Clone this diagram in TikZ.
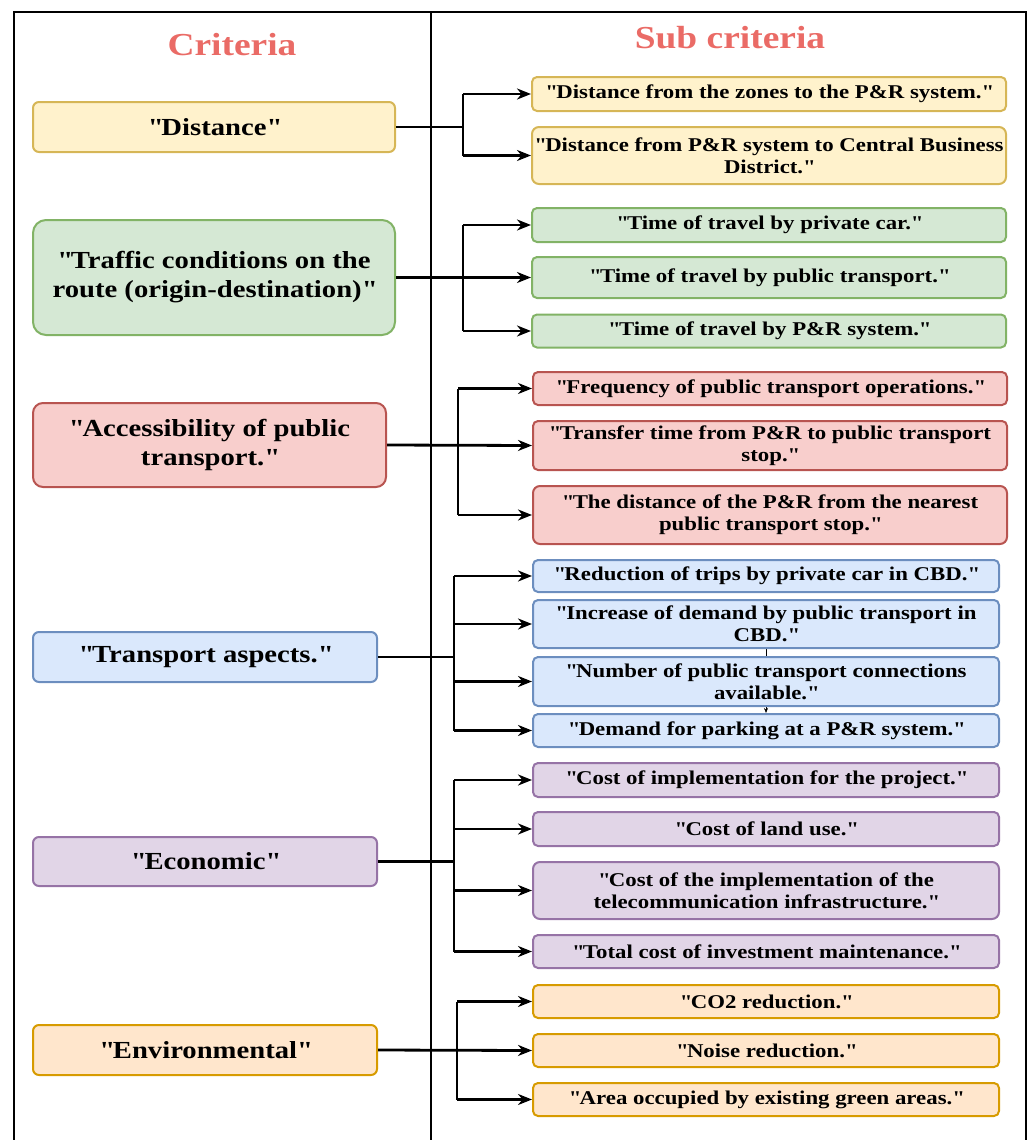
\documentclass[tikz,border=0pt]{standalone}
\usepackage{fontspec}
\setmainfont{Liberation Serif}[FakeStretch=1.17]
\usepackage{xcolor}
\usetikzlibrary{arrows.meta,backgrounds}

\newcommand{\qt}[1]{\textquotedbl#1\textquotedbl}

\definecolor{titleR}{HTML}{EA6B66}
\definecolor{yelF}{HTML}{FFF2CC}\definecolor{yelD}{HTML}{D6B656}
\definecolor{grnF}{HTML}{D5E8D4}\definecolor{grnD}{HTML}{82B366}
\definecolor{redF}{HTML}{F8CECC}\definecolor{redD}{HTML}{B85450}
\definecolor{bluF}{HTML}{DAE8FC}\definecolor{bluD}{HTML}{6C8EBF}
\definecolor{purF}{HTML}{E1D5E7}\definecolor{purD}{HTML}{9673A6}
\definecolor{orgF}{HTML}{FFE6CC}\definecolor{orgD}{HTML}{D79B00}

\tikzset{
  crit/.style={line width=2pt, rounded corners=6pt, align=center, inner sep=2pt,
    font=\fontsize{24.5}{29}\selectfont\bfseries},
  sub/.style={line width=2pt, rounded corners=5pt, align=center, inner sep=2pt,
    font=\fontsize{19.5}{22}\selectfont\bfseries},
  subL/.style={sub, minimum width=474pt},
  subS/.style={sub, minimum width=466pt},
  yel/.style={fill=yelF, draw=yelD},
  grn/.style={fill=grnF, draw=grnD},
  red/.style={fill=redF, draw=redD},
  blu/.style={fill=bluF, draw=bluD},
  pur/.style={fill=purF, draw=purD},
  org/.style={fill=orgF, draw=orgD},
  link/.style={line width=2.8pt},
  arr/.style={link, -{Stealth[length=14pt,width=11pt,inset=4.5pt]}}
}

\begin{document}
\begin{tikzpicture}[x=1pt, y=-1pt]
  \useasboundingbox (0,0) rectangle (1030,1140);

  % Rahmen
  \draw[line width=2.8pt] (14,1140) -- (14,12) -- (1026,12) -- (1026,1140);
  \draw[line width=2.8pt] (431,12) -- (431,1140);

  % Titel
  \node[text=titleR, font=\fontsize{32}{36}\selectfont\bfseries] (tcrit) at (232,45) {Criteria};
  \node[text=titleR, font=\fontsize{32}{36}\selectfont\bfseries] (tsub) at (730,38) {Sub criteria};

  % Kriterien
  \node[crit, yel, minimum width=362pt, minimum height=50pt] (dist) at (214,127) {\qt{Distance}};
  \node[crit, grn, rounded corners=13pt, minimum width=362pt, minimum height=115pt] (traf) at (214,277.5)
    {\qt{Traffic conditions on the\\route (origin-destination)}};
  \node[crit, red, rounded corners=10pt, minimum width=353pt, minimum height=84pt] (acc) at (209.5,445)
    {\qt{Accessibility of public\\transport.}};
  \node[crit, blu, minimum width=344pt, minimum height=50pt] (tra) at (205,657) {\qt{Transport aspects.}};
  \node[crit, pur, minimum width=344pt, minimum height=49pt] (eco) at (205,861.5) {\qt{Economic}};
  \node[crit, org, minimum width=344pt, minimum height=50pt] (env) at (205,1050) {\qt{Environmental}};

  % Unterkriterien
  \node[subL, yel, minimum height=34pt] (d1) at (769,94) {\qt{Distance from the zones to the P\&R system.}};
  \node[subL, yel, rounded corners=7pt, minimum height=57pt] (d2) at (769,155.5)
    {\qt{Distance from P\&R system to Central Business\\District.}};

  \node[subL, grn, minimum height=34pt] (t1) at (769,225) {\qt{Time of travel by private car.}};
  \node[subL, grn, minimum height=41pt] (t2) at (769,277.5) {\qt{Time of travel by public transport.}};
  \node[subL, grn, minimum height=33pt] (t3) at (769,331) {\qt{Time of travel by P\&R system.}};

  \node[subL, red, minimum height=33pt] (a1) at (770,388.5) {\qt{Frequency of public transport operations.}};
  \node[subL, red, minimum height=49pt] (a2) at (770,445.5)
    {\qt{Transfer time from P\&R to public transport\\stop.}};
  \node[subL, red, rounded corners=7pt, minimum height=58pt] (a3) at (770,515)
    {\qt{The distance of the P\&R from the nearest\\public transport stop.}};

  \node[subS, blu, minimum height=32pt] (b1) at (766,576) {\qt{Reduction of trips by private car in CBD.}};
  \node[subS, blu, minimum height=48pt] (b2) at (766,624)
    {\qt{Increase of demand by public transport in\\CBD.}};
  \node[subS, blu, minimum height=49pt] (b3) at (766,681.5)
    {\qt{Number of public transport connections\\available.}};
  \node[subS, blu, minimum height=33pt] (b4) at (766,730.5) {\qt{Demand for parking at a P\&R system.}};

  \node[subS, pur, minimum height=34pt] (e1) at (766,780) {\qt{Cost of implementation for the project.}};
  \node[subS, pur, minimum height=34pt] (e2) at (766,829) {\qt{Cost of land use.}};
  \node[subS, pur, rounded corners=7pt, minimum height=57pt] (e3) at (766,890.5)
    {\qt{Cost of the implementation of the\\telecommunication infrastructure.}};
  \node[subS, pur, minimum height=33pt] (e4) at (766,951.5) {\qt{Total cost of investment maintenance.}};

  \node[subS, org, minimum height=33pt] (v1) at (766,1001.5) {\qt{CO2 reduction.}};
  \node[subS, org, minimum height=33pt] (v2) at (766,1050.5) {\qt{Noise reduction.}};
  \node[subS, org, minimum height=33pt] (v3) at (766,1099.5) {\qt{Area occupied by existing green areas.}};

  % Verzweigungen
  \coordinate (dbus) at (463,127);
  \coordinate (tbus) at (463,277.5);
  \coordinate (abus) at (458,445);
  \coordinate (bbus) at (454,657);
  \coordinate (ebus) at (454,861.5);
  \coordinate (vbus) at (457,1050);

  \draw[link] (dist.east) -- (dbus);
  \draw[link] (dbus|-d1.west) -- (dbus|-d2.west);
  \foreach \i in {1,2}
    \draw[arr] (dbus|-d\i.west) -- (d\i.west);

  \draw[arr] (traf.east) -- (t2.west);
  \draw[link] (tbus|-t1.west) -- (tbus|-t3.west);
  \foreach \i in {1,3}
    \draw[arr] (tbus|-t\i.west) -- (t\i.west);

  \draw[arr] (acc.east) -- (a2.west);
  \draw[link] (abus|-a1.west) -- (abus|-a3.west);
  \foreach \i in {1,3}
    \draw[arr] (abus|-a\i.west) -- (a\i.west);

  \draw[link] (tra.east) -- (bbus);
  \draw[link] (bbus|-b1.west) -- (bbus|-b4.west);
  \foreach \i in {1,...,4}
    \draw[arr] (bbus|-b\i.west) -- (b\i.west);

  \draw[link] (eco.east) -- (ebus);
  \draw[link] (ebus|-e1.west) -- (ebus|-e4.west);
  \foreach \i in {1,...,4}
    \draw[arr] (ebus|-e\i.west) -- (e\i.west);

  \draw[arr] (env.east) -- (v2.west);
  \draw[link] (vbus|-v1.west) -- (vbus|-v3.west);
  \foreach \i in {1,3}
    \draw[arr] (vbus|-v\i.west) -- (v\i.west);

  % versteckte Verbindung hinter b3
  \begin{scope}[on background layer]
    \draw[line width=0.6pt, -{Stealth[length=5pt,width=4pt]}] (b2.south) -- (b4.north);
  \end{scope}
\end{tikzpicture}
\end{document}
